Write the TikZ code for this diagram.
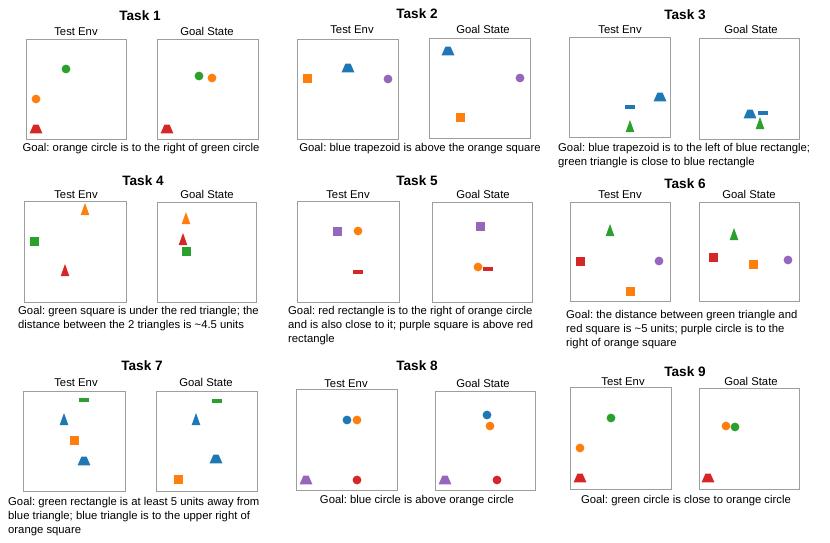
\documentclass[tikz,border=0pt]{standalone}
\usepackage{fontspec}
\setmainfont{Liberation Sans}
\usepackage{tikz}
\usetikzlibrary{calc}
\frenchspacing

\definecolor{tabblue}{HTML}{1F77B4}
\definecolor{taborange}{HTML}{FF7F0E}
\definecolor{tabgreen}{HTML}{2CA02C}
\definecolor{tabred}{HTML}{D62728}
\definecolor{tabpurple}{HTML}{9467BD}

\tikzset{
  panel/.style={draw=black!38, line width=0.8pt},
  tasktitle/.style={font=\fontsize{13.6}{16}\selectfont\bfseries, anchor=base, inner sep=0pt},
  envlab/.style={font=\fontsize{11.3}{14}\selectfont, anchor=base, inner sep=0pt},
  goaltext/.style={font=\fontsize{11.3}{14}\selectfont, anchor=base west, align=left, inner sep=0pt},
  goalmid/.style={font=\fontsize{11.3}{14}\selectfont, anchor=base, inner sep=0pt},
}

\newcommand{\panel}[4]{\draw[panel] (#1,#2) rectangle (#3,#4);}
\newcommand{\objdot}[3]{\fill[#1] (#2,#3) circle (4.4);}
\newcommand{\objsq}[3]{\fill[#1,shift={(#2,#3)}] (-4.5,-4.5) rectangle (4.5,4.5);}
\newcommand{\objrect}[3]{\fill[#1,shift={(#2,#3)}] (-4.6,-2.2) rectangle (4.6,2.2);}
\newcommand{\objtri}[3]{\fill[#1,shift={(#2,#3)}] (-4.3,6) -- (4.3,6) -- (0,-6) -- cycle;}
\newcommand{\objtrap}[3]{\fill[#1,shift={(#2,#3)}] (-6.4,4.3) -- (6.4,4.3) -- (2.6,-4.3) -- (-2.6,-4.3) -- cycle;}

\begin{document}
\begin{tikzpicture}[x=1pt,y=-1pt]
  \useasboundingbox (0,0) rectangle (830,543);

  % task 1
  \node[tasktitle] (t1) at (140,21) {Task 1};
  \node[envlab] (e1) at (76,36) {Test Env};
  \node[envlab] (g1) at (207,36) {Goal State};
  \panel{26}{39}{126}{139}
  \panel{157}{39}{258}{139}
  \objdot{tabgreen}{66}{69}
  \objdot{taborange}{36}{99}
  \objtrap{tabred}{36}{129}
  \objdot{tabgreen}{199}{76}
  \objdot{taborange}{212}{78}
  \objtrap{tabred}{167}{129}
  \node[goalmid] (c1) at (141,151) {Goal: orange circle is to the right of green circle};

  % task 2
  \node[tasktitle] (t2) at (417,19) {Task 2};
  \node[envlab] (e2) at (352,34) {Test Env};
  \node[envlab] (g2) at (483,34) {Goal State};
  \panel{297}{39}{398}{139}
  \panel{429}{38}{530}{138}
  \objsq{taborange}{307}{79}
  \objtrap{tabblue}{348}{68}
  \objdot{tabpurple}{388}{79}
  \objtrap{tabblue}{448}{51}
  \objdot{tabpurple}{520}{78}
  \objsq{taborange}{460}{117}
  \node[goalmid] (c2) at (420,151) {Goal: blue trapezoid is above the orange square};

  % task 3
  \node[tasktitle] (t3) at (685,20) {Task 3};
  \node[envlab] (e3) at (620,34) {Test Env};
  \node[envlab] (g3) at (751,34) {Goal State};
  \panel{569}{37}{670}{137}
  \panel{699}{38}{799}{139}
  \objrect{tabblue}{630}{107}
  \objtrap{tabblue}{660}{97}
  \objtri{tabgreen}{630}{126}
  \objtrap{tabblue}{750}{114}
  \objrect{tabblue}{763}{113}
  \objtri{tabgreen}{760}{123}
  \node[goaltext] (c3) at (558,165) {Goal: blue trapezoid is to the left of blue rectangle;\\green triangle is close to blue rectangle};

  % task 4
  \node[tasktitle] (t4) at (143,185) {Task 4};
  \node[envlab] (e4) at (76,198) {Test Env};
  \node[envlab] (g4) at (207,198) {Goal State};
  \panel{24}{201}{126}{302}
  \panel{157}{202}{256}{302}
  \objtri{taborange}{85}{209}
  \objsq{tabgreen}{34}{241}
  \objtri{tabred}{65}{270}
  \objtri{taborange}{186}{218}
  \objtri{tabred}{183}{239}
  \objsq{tabgreen}{186}{251}
  \node[goaltext] (c4) at (18,328) {Goal: green square is under the red triangle; the\\distance between the 2 triangles is \textasciitilde4.5 units};

  % task 5
  \node[tasktitle] (t5) at (417,185) {Task 5};
  \node[envlab] (e5) at (348,198) {Test Env};
  \node[envlab] (g5) at (483,198) {Goal State};
  \panel{297}{201}{399}{302}
  \panel{432}{202}{532}{302}
  \objsq{tabpurple}{337}{231}
  \objdot{taborange}{358}{231}
  \objrect{tabred}{358}{272}
  \objsq{tabpurple}{480}{226}
  \objdot{taborange}{478}{267}
  \objrect{tabred}{488}{269}
  \node[goaltext] (c5) at (288,342) {Goal: red rectangle is to the right of orange circle\\and is also close to it; purple square is above red\\rectangle};

  % task 6
  \node[tasktitle] (t6) at (685,188) {Task 6};
  \node[envlab] (e6) at (620,198) {Test Env};
  \node[envlab] (g6) at (749,198) {Goal State};
  \panel{570}{202}{670}{301}
  \panel{699}{202}{799}{301}
  \objtri{tabgreen}{610}{230}
  \objsq{tabred}{580}{261}
  \objdot{tabpurple}{659}{261}
  \objsq{taborange}{630}{291}
  \objtri{tabgreen}{734}{234}
  \objsq{tabred}{713}{257}
  \objsq{taborange}{753}{264}
  \objdot{tabpurple}{788}{260}
  \node[goaltext] (c6) at (566,346) {Goal: the distance between green triangle and\\red square is \textasciitilde5 units; purple circle is to the\\right of orange square};

  % task 7
  \node[tasktitle] (t7) at (142,370) {Task 7};
  \node[envlab] (e7) at (76,386) {Test Env};
  \node[envlab] (g7) at (206,386) {Goal State};
  \panel{23}{391}{125}{491}
  \panel{156}{391}{257}{491}
  \objrect{tabgreen}{84}{400}
  \objtri{tabblue}{64}{419}
  \objsq{taborange}{74}{440}
  \objtrap{tabblue}{84}{461}
  \objrect{tabgreen}{217}{401}
  \objtri{tabblue}{196}{419}
  \objtrap{tabblue}{216}{459}
  \objsq{taborange}{178}{479}
  \node[goaltext] (c7) at (8,533) {Goal: green rectangle is at least 5 units away from\\blue triangle; blue triangle is to the upper right of\\orange square};

  % task 8
  \node[tasktitle] (t8) at (417,370) {Task 8};
  \node[envlab] (e8) at (346,387) {Test Env};
  \node[envlab] (g8) at (483,387) {Goal State};
  \panel{296}{389}{397}{490}
  \panel{435}{391}{535}{490}
  \objdot{tabblue}{347}{420}
  \objdot{taborange}{357}{420}
  \objtrap{tabpurple}{306}{480}
  \objdot{tabred}{357}{480}
  \objdot{tabblue}{487}{415}
  \objdot{taborange}{490}{426}
  \objtrap{tabpurple}{445}{480}
  \objdot{tabred}{497}{480}
  \node[goalmid] (c8) at (417,503) {Goal: blue circle is above orange circle};

  % task 9
  \node[tasktitle] (t9) at (685,376) {Task 9};
  \node[envlab] (e9) at (623,385) {Test Env};
  \node[envlab] (g9) at (751,385) {Goal State};
  \panel{570}{387}{671}{489}
  \panel{699}{388}{799}{489}
  \objdot{tabgreen}{611}{418}
  \objdot{taborange}{580}{448}
  \objtrap{tabred}{580}{478}
  \objdot{taborange}{726}{426}
  \objdot{tabgreen}{735}{427}
  \objtrap{tabred}{708}{478}
  \node[goalmid] (c9) at (686,503) {Goal: green circle is close to orange circle};
\end{tikzpicture}
\end{document}
